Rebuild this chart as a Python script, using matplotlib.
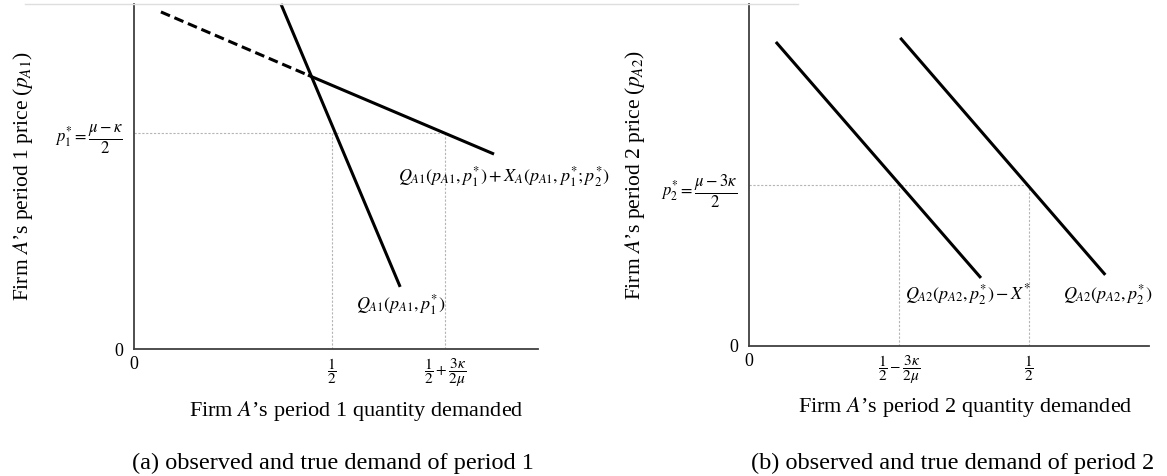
"""Observed and true demand, periods 1 and 2 (schematic)."""
import matplotlib
matplotlib.use("Agg")
import matplotlib.pyplot as plt
from matplotlib.lines import Line2D

# ---- data (schematic units; the 1/2 tick sits at q = 0.5) ----
P1_STAR = 0.626
Q1_HIGH = 0.785
P1_STEEP_Q = [0.371, 0.672]
P1_STEEP_P = [1.000, 0.180]
P1_FLAT_Q = [0.068, 0.439, 0.909]        # dashed up to the kink, solid after
P1_FLAT_P = [0.977, 0.794, 0.565]

P2_STAR = 0.471
Q2_LOW = 0.268
P2_SHIFT_Q = [0.048, 0.414]
P2_SHIFT_P = [0.889, 0.199]
P2_TRUE_Q = [0.270, 0.636]
P2_TRUE_P = [0.901, 0.208]

P1_XTICKS = [0.5, Q1_HIGH]
P1_XTICKLABELS = [r"$\dfrac{1}{2}$", r"$\dfrac{1}{2}+\dfrac{3\kappa}{2\mu}$"]
P2_XTICKS = [Q2_LOW, 0.5]
P2_XTICKLABELS = [r"$\dfrac{1}{2}-\dfrac{3\kappa}{2\mu}$", r"$\dfrac{1}{2}$"]

plt.rcParams["font.family"] = ["Liberation Serif", "DejaVu Serif"]
plt.rcParams["mathtext.fontset"] = "stix"

W, H = 1167, 476
fig = plt.figure(figsize=(W / 100, H / 100), dpi=100)

def px_axes(x0, y0, x1, y1):
    return fig.add_axes([x0 / W, 1 - y1 / H, (x1 - x0) / W, (y1 - y0) / H])

ax1 = px_axes(134, 4, 538, 349)
ax2 = px_axes(749, 4, 1149, 346)

GUIDE = dict(color="#b5b5b5", lw=0.8, ls=(0, (2, 1.5)))
LINE = dict(color="black", lw=2.2, solid_capstyle="butt", clip_on=False)

for ax in (ax1, ax2):
    for s in ("top", "right"):
        ax.spines[s].set_visible(False)
    for s in ("left", "bottom"):
        ax.spines[s].set_color("#404040")
        ax.spines[s].set_linewidth(1.3)
    ax.set_ylim(0, 1)
    ax.tick_params(length=0, labelsize=12)

# ---- panel (a) ----
ax1.set_xlim(0, 1.02)
ax1.plot([0, Q1_HIGH], [P1_STAR, P1_STAR], **GUIDE)
for q in P1_XTICKS:
    ax1.plot([q, q], [0, P1_STAR], **GUIDE)
ax1.plot(P1_STEEP_Q, P1_STEEP_P, **LINE)
ax1.plot(P1_FLAT_Q[:2], P1_FLAT_P[:2], ls=(0, (3.2, 1.6)), **LINE)
ax1.plot(P1_FLAT_Q[1:], P1_FLAT_P[1:], **LINE)
ax1.text(0.667, 0.499, r"$Q_{A1}(p_{A1},p_1^{*})+X_A(p_{A1},p_1^{*};p_2^{*})$",
         fontsize=13, va="center", ha="left", clip_on=False)
ax1.text(0.561, 0.130, r"$Q_{A1}(p_{A1},p_1^{*})$",
         fontsize=13, va="center", ha="left")
ax1.set_xticks([0] + P1_XTICKS)
ax1.set_xticklabels(["0"] + P1_XTICKLABELS, fontsize=11)
ax1.get_xticklabels()[0].set_fontsize(13)
ax1.set_yticks([0, P1_STAR])
ax1.set_yticklabels(["0", r"$p_1^{*}=\dfrac{\mu-\kappa}{2}$"], fontsize=12)
ax1.get_yticklabels()[0].set_fontsize(13)
ax1.tick_params(axis="x", pad=5)
ax1.tick_params(axis="y", pad=8)
ax1.set_ylabel(r"Firm $A$’s period 1 price ($p_{A1}$)", fontsize=15.5)
ax1.yaxis.set_label_coords(-0.245, 0.5)

# ---- panel (b) ----
ax2.set_xlim(0, 0.714)
ax2.plot([0, 0.5], [P2_STAR, P2_STAR], **GUIDE)
for q in P2_XTICKS:
    ax2.plot([q, q], [0, P2_STAR], **GUIDE)
ax2.plot(P2_SHIFT_Q, P2_SHIFT_P, **LINE)
ax2.plot(P2_TRUE_Q, P2_TRUE_P, **LINE)
ax2.text(0.279, 0.149, r"$Q_{A2}(p_{A2},p_2^{*})-X^{*}$",
         fontsize=13, va="center", ha="left")
ax2.text(0.561, 0.149, r"$Q_{A2}(p_{A2},p_2^{*})$",
         fontsize=13, va="center", ha="left", clip_on=False)
ax2.set_xticks([0] + P2_XTICKS)
ax2.set_xticklabels(["0"] + P2_XTICKLABELS, fontsize=11)
ax2.get_xticklabels()[0].set_fontsize(13)
ax2.set_yticks([0, P2_STAR])
ax2.set_yticklabels(["0", r"$p_2^{*}=\dfrac{\mu-3\kappa}{2}$"], fontsize=12)
ax2.get_yticklabels()[0].set_fontsize(13)
ax2.tick_params(axis="x", pad=5)
ax2.tick_params(axis="y", pad=8)
ax2.set_ylabel(r"Firm $A$’s period 2 price ($p_{A2}$)", fontsize=15.5)
ax2.yaxis.set_label_coords(-0.255, 0.5)

# ---- axis titles below and captions ----
fig.text(356 / W, 1 - 411 / H, r"Firm $A$’s period 1 quantity demanded",
         fontsize=16, ha="center", va="center")
fig.text(965 / W, 1 - 407 / H, r"Firm $A$’s period 2 quantity demanded",
         fontsize=16, ha="center", va="center")
fig.text(333 / W, 1 - 463 / H, "(a) observed and true demand of period 1",
         fontsize=17.5, ha="center", va="center")
fig.text(953 / W, 1 - 463 / H, "(b) observed and true demand of period 2",
         fontsize=17.5, ha="center", va="center")

# faint frame edge along the top, as in the scanned original
fig.add_artist(Line2D([25 / W, 798 / W], [1 - 4 / H, 1 - 4 / H],
                      color="#dedede", lw=1.0))

fig.savefig("out.png", dpi=100)
